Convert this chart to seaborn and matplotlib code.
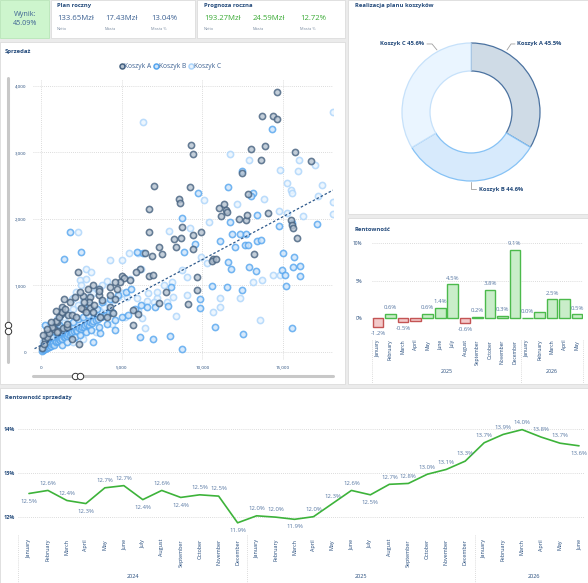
import numpy as np
import pandas as pd
import matplotlib
matplotlib.use("Agg")
import matplotlib.pyplot as plt
import matplotlib.transforms as mtrans
from matplotlib.patches import Rectangle
from matplotlib.lines import Line2D
import seaborn as sns

# ---------------- data ----------------
kpi_plan_values = ["133.65Mzł", "17.43Mzł", "13.04%"]
kpi_prog_values = ["193.27Mzł", "24.59Mzł", "12.72%"]
kpi_sub_labels = ["Netto", "Marża", "Marża %"]
wynik_text = "Wynik:\n45.09%"

donut_labels = ["Koszyk A", "Koszyk B", "Koszyk C"]
donut_values = [45.5, 44.6, 45.6]

bar_months = ["January", "February", "March", "April", "May", "June", "July",
              "August", "September", "October", "November", "December",
              "January", "February", "March", "April", "May"]
bar_values = [-1.2, 0.6, -0.5, -0.35, 0.6, 1.4, 4.5, -0.6, 0.2, 3.8, 0.3, 9.1,
              0.04, 0.75, 2.5, 2.5, 0.5]
bar_show_label = [1, 1, 1, 0, 1, 1, 1, 1, 1, 1, 1, 1, 1, 0, 1, 0, 1]
bar_years = ["2025", "2026"]

line_months = ["January", "February", "March", "April", "May", "June", "July",
               "August", "September", "October", "November", "December"] * 2 + \
              ["January", "February", "March", "April", "May", "June"]
line_values = [12.53, 12.60, 12.37, 12.30, 12.66, 12.71, 12.39, 12.60, 12.44, 12.50,
               12.47, 11.86, 12.02, 11.99, 11.94, 12.00, 12.30, 12.60, 12.50, 12.74,
               12.76, 12.97, 13.08, 13.27, 13.69, 13.88, 13.99, 13.82, 13.68, 13.62]
line_label_pos = ["b", "a", "a", "b", "a", "a", "b", "a", "b", "a", "a", "b",
                  "a", "a", "b", "a", "a", "a", "b", "a", "a", "a", "a", "a",
                  "a", "a", "a", "a", "a", "b"]
line_years = ["2024", "2025", "2026"]

A_x = [14655, 13680, 14405, 14655, 9322, 9446, 13000, 13910, 13640, 15770, 16720, 7030,
       9260, 8575, 8620, 6700, 12460, 12810, 11040, 11330, 11470, 11510, 11180, 12260,
       12700, 12750, 14060, 15500, 15570, 15650, 15860, 8720, 6700, 9940, 9446, 8250,
       8680, 7300, 8370, 9450, 10650, 10580, 10850, 13230, 6470, 6880, 7480, 6700, 6970,
       6160, 5910, 5520, 5020, 5120, 4900, 4280, 4690, 3580, 3580, 3580, 3040, 2625,
       2290, 4280, 4590, 5690, 9650, 9140, 9670, 7750, 7340, 5730, 5990, 2980, 3040,
       2625, 1695, 1280, 1220, 970, 800, 350, 230, 1920, 2360, 1920, 2480, 2690, 1075,
       1385, 1590, 3660, 4070, 4490, 3245,
       80, 200, 350, 500, 700, 900, 1100, 1300, 1500, 1800, 2100, 2400, 1000, 1600,
       2200, 2800, 3300, 3800, 4300, 600, 900, 1400, 2900, 3200, 4600, 150, 400]
A_y = [3905, 3550, 3540, 3505, 3115, 2980, 3055, 3100, 2890, 3005, 2865, 2495,
       2475, 2295, 2240, 2145, 2690, 2370, 2160, 2225, 2130, 2095, 2040, 1990,
       1980, 2050, 2090, 1975, 1905, 1855, 1715, 1880, 1800, 1800, 1760, 1700,
       1705, 1570, 1570, 1550, 1400, 1365, 1400, 1470, 1490, 1440, 1465, 1140, 1155,
       1240, 1200, 1080, 1145, 1110, 1050, 980, 940, 945, 850, 910, 830, 840,
       1195, 680, 795, 405, 1130, 715, 930, 905, 730, 630, 565, 745, 665,
       650, 550, 680, 565, 455, 340, 280, 180, 190, 120, 550, 660, 750, 315,
       355, 380, 530, 530, 580, 605,
       60, 120, 220, 280, 380, 460, 520, 600, 650, 750, 820, 900, 300, 420,
       520, 600, 700, 780, 850, 450, 620, 800, 950, 1000, 1050, 250, 350]

B_x = [14340, 12440, 11610, 13140, 13000, 9730, 8720, 11740, 13370, 14735, 15570, 17140,
       11850, 12350, 12710, 13370, 13660, 11100, 12650, 12860, 12030, 9550, 8890, 6345,
       5930, 11610, 11760, 12920, 13350, 15030, 14920, 15130, 15190, 15710, 15650, 16060,
       16060, 15540, 12520, 10790, 8760, 8020, 6945, 6160, 10580, 11510, 12440, 9880,
       9840, 8040, 7900, 7070, 6550, 4590, 3660, 3245, 1425, 1800,
       50, 120, 180, 250, 300, 380, 420, 500, 560, 620, 700, 760, 820, 900, 950, 1050,
       1100, 1180, 1250, 1320, 1400, 1480, 1550, 1620, 1700, 1780, 1850, 1950, 2050,
       2150, 2250, 2350, 2450, 2550, 2650, 2750, 2850, 2950, 3050, 3150, 3250, 3400,
       3550, 3700, 3850, 4000, 4200, 4400, 600, 800, 1000, 1200, 1500, 1700, 2000,
       2300, 2600, 2900, 3200, 3500, 400, 700, 1300, 1600, 2100, 2400, 2800, 3100,
       3600, 4100, 4600, 5000, 5400, 5800, 6200, 900, 1100, 300, 200, 100, 3000,
       3800, 4300, 4800, 5300, 5600, 250, 870, 1200, 2500]
B_y = [3345, 2720, 2475, 2380, 2335, 2385, 2005, 1945, 2055, 1890, 1935, 1915,
       1775, 1775, 1765, 1670, 1680, 1670, 1610, 1605, 1570, 1625, 1505, 1490,
       1495, 1355, 1240, 1275, 1210, 1480, 1230, 1155, 990, 1430, 1280, 1290,
       1140, 355, 265, 370, 45, 240, 195, 230, 995, 970, 925, 660,
       800, 975, 690, 680, 680, 330, 280, 155, 1395, 1800,
       20, 35, 50, 45, 70, 60, 90, 80, 110, 95, 120, 140, 110, 150, 170, 160,
       190, 175, 210, 200, 230, 220, 250, 240, 270, 260, 290, 300, 310,
       330, 320, 360, 350, 380, 370, 400, 420, 410, 450, 440, 470, 480,
       500, 520, 540, 560, 580, 600, 250, 300, 280, 350, 380, 420, 450,
       500, 520, 560, 600, 650, 200, 220, 110, 150, 220, 260, 300, 330,
       380, 420, 480, 520, 560, 640, 700, 350, 400, 150, 100, 60, 700,
       750, 800, 850, 900, 950, 405, 435, 560, 1500]

C_x = [18130, 6345, 11740, 12920, 16020, 16990, 15910, 14820, 15270, 17450, 15500, 15590,
       10130, 12170, 13850, 14780, 15230, 16270, 18130, 18130, 17160, 10440, 9220, 7940,
       5990, 5440, 4280, 5020, 2790, 2420, 1960, 970, 560, 9900, 10270, 8720, 9030, 8100,
       7610, 6610, 7170, 5930, 5310, 11080, 12340, 13170, 13700, 14390, 14820, 9030, 8210,
       7030, 7790, 8370, 6240, 6450, 10690, 11100, 13580, 2300,
       150, 350, 600, 900, 1200, 1500, 1800, 2100, 2400, 2700, 3000, 3300, 3600, 3900,
       4200, 4500, 4800, 5100, 500, 800, 1100, 1400, 1700, 2000, 2300, 2600, 2900, 3200,
       3500, 3800, 4100, 1300, 1900, 2200, 2500, 2800, 3100, 900, 700, 2000, 2600, 3400,
       4400, 5200, 6000, 6600, 7200, 300, 100, 5500, 6200]
C_y = [3610, 3450, 2980, 2880, 2880, 2810, 2720, 2740, 2540, 2510, 2430, 2380,
       2275, 2225, 2300, 2120, 2090, 2040, 2245, 2070, 2345, 1955, 1865, 1810,
       1490, 1490, 1380, 1375, 1250, 1080, 815, 500, 415, 1430, 1330, 1230, 1120, 1055,
       1005, 880, 810, 805, 830, 810, 805, 1055, 1080, 1150, 1155, 855, 830,
       755, 750, 540, 505, 355, 605, 680, 480, 1800,
       60, 100, 130, 180, 230, 280, 330, 380, 430, 480, 530, 580, 630, 680,
       730, 780, 830, 880, 300, 380, 450, 520, 580, 640, 700, 760, 820, 880,
       940, 1000, 1060, 650, 800, 900, 1000, 1100, 1200, 420, 300, 150, 200, 300,
       420, 520, 620, 760, 900, 250, 150, 1100, 1250]

trend_x = [-400, 18100]
trend_y = [50, 2430]

# ---------------- styling ----------------
sns.set_theme(style="white")
plt.rcParams["font.family"] = ["Open Sans", "DejaVu Sans"]

TITLE = "#22497a"
TXT = "#3d6293"
LBL = "#5878a3"
GREEN = "#3aaa35"
GRID = "#d0d0d0"

W, H = 588, 583
fig = plt.figure(figsize=(W / 100, H / 100), dpi=100, facecolor="#ebebeb")


def ax_px(x0, y0, w, h):
    return fig.add_axes([x0 / W, 1 - (y0 + h) / H, w / W, h / H])


def card(x0, y0, w, h, fc="white", ec="#dcdcdc"):
    r = Rectangle((x0 / W, 1 - (y0 + h) / H), w / W, h / H, transform=fig.transFigure,
                  facecolor=fc, edgecolor=ec, linewidth=0.6, zorder=-10)
    fig.add_artist(r)


def ftext(x, y, s, **kw):
    fig.text(x / W, 1 - y / H, s, **kw)


card(0, 0, 49, 38, fc="#cdf5cd", ec="#b8e6b8")
card(51, 0, 144, 38)
card(197, 0, 148, 38)
card(348, 0, 240, 214)
card(0, 42, 345, 342)
card(348, 218, 240, 166)
card(0, 388, 588, 195)

# ---------------- KPI header ----------------
ftext(25, 19, wynik_text, ha="center", va="center", fontsize=5.2, color=TXT,
      linespacing=1.5)
ftext(57, 6, "Plan roczny", ha="left", va="center", fontsize=4.2, color=TITLE,
      fontweight="bold")
ftext(204, 6, "Prognoza roczna", ha="left", va="center", fontsize=4.2, color=TITLE,
      fontweight="bold")
for xs, vals, col in [([57, 105, 151], kpi_plan_values, TXT),
                      ([204, 253, 300], kpi_prog_values, GREEN)]:
    for x, v, s in zip(xs, vals, kpi_sub_labels):
        ftext(x, 19, v, ha="left", va="center", fontsize=5.6, color=col)
        ftext(x, 28.5, s, ha="left", va="center", fontsize=2.8, color="#7d8ea3")

# ---------------- donut ----------------
ftext(355, 6, "Realizacja planu koszyków", ha="left", va="center", fontsize=4.2,
      color=TITLE, fontweight="bold")
axd = ax_px(402, 43, 138, 138)
face_cols = ["#cfdbe6", "#d7eafc", "#eaf5ff"]
edge_cols = ["#4b72a0", "#86c2f5", "#c6e1fa"]
wedges, _ = axd.pie(donut_values, colors=face_cols, startangle=90, counterclock=False,
                    radius=1.0, wedgeprops=dict(width=0.406, linewidth=0.9))
for w_, ec in zip(wedges, edge_cols):
    w_.set_edgecolor(ec)
axd.set_xlim(-1, 1)
axd.set_ylim(-1, 1)
axd.set_aspect("equal")
axd.axis("off")
lead = "#a0a0a0"
axd.plot([0.522, 0.58, 0.638], [0.899, 0.986, 0.986], color=lead, lw=0.6, clip_on=False)
axd.plot([-0.493, -0.565, -0.638], [0.899, 0.986, 0.986], color=lead, lw=0.6, clip_on=False)
axd.plot([0, 0, 0.072], [-1.014, -1.116, -1.116], color=lead, lw=0.6, clip_on=False)
axd.text(0.667, 0.986, f"{donut_labels[0]} {donut_values[0]}%", ha="left", va="center",
         fontsize=4.2, color=TITLE, fontweight="bold")
axd.text(-0.681, 0.986, f"{donut_labels[2]} {donut_values[2]}%", ha="right", va="center",
         fontsize=4.2, color=TITLE, fontweight="bold")
axd.text(0.116, -1.116, f"{donut_labels[1]} {donut_values[1]}%", ha="left", va="center",
         fontsize=4.2, color=TITLE, fontweight="bold")

# ---------------- scatter ----------------
ftext(5, 51, "Sprzedaż", ha="left", va="center", fontsize=4.2, color=TITLE,
      fontweight="bold")
axs = ax_px(33, 79, 300, 281)
axs.set_facecolor("none")
styles = {"Koszyk A": ("#b5c2d0", "#45617f"),
          "Koszyk B": ("#cde4fa", "#55a5ef"),
          "Koszyk C": ("#e9f4fe", "#add5fb")}
df_s = pd.DataFrame({
    "x": C_x + B_x + A_x,
    "y": C_y + B_y + A_y,
    "k": ["Koszyk C"] * len(C_x) + ["Koszyk B"] * len(B_x) + ["Koszyk A"] * len(A_x),
})
for k in ["Koszyk C", "Koszyk B", "Koszyk A"]:
    sub = df_s[df_s["k"] == k]
    fc, ec = styles[k]
    sns.scatterplot(data=sub, x="x", y="y", color=fc, edgecolor=ec, s=20,
                    linewidth=1.15, alpha=0.8, ax=axs, legend=False, zorder=3)
axs.plot(trend_x, trend_y, linestyle=(0, (2, 1.6)), color="#2f5a8c", lw=0.9, zorder=4)
axs.set_xlim(-496, 18103)
axs.set_ylim(-120, 4099)
axs.set_xticks([0, 5000, 10000, 15000])
axs.set_xticklabels(["0", "5,000", "10,000", "15,000"])
axs.set_yticks([0, 1000, 2000, 3000, 4000])
axs.set_yticklabels(["0", "1,000", "2,000", "3,000", "4,000"])
axs.tick_params(axis="both", length=0, labelsize=3.2, labelcolor=TITLE)
axs.tick_params(axis="x", pad=4)
axs.tick_params(axis="y", pad=5)
axs.set_xlabel("")
axs.set_ylabel("")
axs.grid(True, linestyle=(0, (1, 1.5)), color=GRID, lw=0.6)
axs.set_axisbelow(True)
for sp in axs.spines.values():
    sp.set_visible(False)
handles = [Line2D([], [], marker="o", linestyle="", markersize=3.6,
                  markerfacecolor=styles[k][0], markeredgecolor=styles[k][1],
                  markeredgewidth=1.1) for k in ["Koszyk A", "Koszyk B", "Koszyk C"]]
axs.legend(handles, ["Koszyk A", "Koszyk B", "Koszyk C"], ncol=3, loc="center",
           bbox_to_anchor=(0.457, 1 + 12 / 281), frameon=False, fontsize=4.8,
           handletextpad=0.05, columnspacing=0.35, handlelength=0.7, labelcolor=TXT,
           borderaxespad=0)

# slider decorations
fig.add_artist(Line2D([7.5 / W, 7.5 / W], [1 - 78 / H, 1 - 362 / H], color="#c8c8c8",
                      lw=2.2, transform=fig.transFigure))
fig.add_artist(Line2D([33 / W, 333 / W], [1 - 376 / H, 1 - 376 / H], color="#c8c8c8",
                      lw=2.2, transform=fig.transFigure))
for (cx, cy) in [(7.5, 325), (7.5, 331), (75, 376), (80, 376)]:
    fig.add_artist(Line2D([cx / W], [1 - cy / H], marker="o", markersize=4.6,
                          markerfacecolor="white", markeredgecolor="#333333",
                          markeredgewidth=0.7, transform=fig.transFigure))

# ---------------- bar chart ----------------
ftext(355, 229, "Rentowność", ha="left", va="center", fontsize=4.2, color=TITLE,
      fontweight="bold")
axb = ax_px(371.8, 240, 211.5, 97)
axb.set_facecolor("none")
df_b = pd.DataFrame({"i": list(range(len(bar_values))), "v": bar_values})
sns.barplot(data=df_b, x="i", y="v", ax=axb, width=0.85, color="#c8ecc8",
            linewidth=1.0, zorder=3)
for p, v in zip(axb.patches, bar_values):
    if v < 0:
        p.set_facecolor("#f3caca")
        p.set_edgecolor("#c45454")
    else:
        p.set_facecolor("#c9edc9")
        p.set_edgecolor("#4cba4c")
for i, (v, show) in enumerate(zip(bar_values, bar_show_label)):
    if not show:
        continue
    if v >= 0:
        axb.annotate(f"{v:.1f}%", (i, v), xytext=(0, 4.5), textcoords="offset points",
                     ha="center", va="center", fontsize=4.3, color=LBL)
    else:
        axb.annotate(f"{v:.1f}%", (i, v), xytext=(0, -5), textcoords="offset points",
                     ha="center", va="center", fontsize=4.3, color=LBL)
axb.set_xlim(-0.5, 16.5)
axb.set_ylim(-2.53, 10.4)
axb.set_yticks([0, 5, 10])
axb.set_yticklabels(["0%", "5%", "10%"])
axb.set_xticks(range(len(bar_months)))
axb.set_xticklabels(bar_months, rotation=90, va="top", ha="center")
axb.tick_params(axis="x", length=0, pad=2, labelsize=3.6, labelcolor=TITLE)
axb.tick_params(axis="y", length=0, pad=7, labelsize=3.4, labelcolor=TITLE)
axb.set_xlabel("")
axb.set_ylabel("")
axb.grid(True, axis="y", linestyle=(0, (1, 1.5)), color=GRID, lw=0.6)
axb.set_axisbelow(True)
for sp in axb.spines.values():
    sp.set_visible(False)
tb = mtrans.blended_transform_factory(axb.transData, axb.transAxes)
for xs in [-0.5, 11.5, 16.5]:
    axb.add_line(Line2D([xs, xs], [-0.03, -0.47], transform=tb, clip_on=False,
                        linestyle=(0, (1, 1.5)), color=GRID, lw=0.6))
axb.text(5.5, -0.36, bar_years[0], transform=tb, ha="center", va="center",
         fontsize=3.8, color=TITLE)
axb.text(14.0, -0.36, bar_years[1], transform=tb, ha="center", va="center",
         fontsize=3.8, color=TITLE)

# ---------------- line chart ----------------
ftext(5, 397, "Rentowność sprzedaży", ha="left", va="center", fontsize=4.2, color=TITLE,
      fontweight="bold")
axl = ax_px(17.6, 420, 567.1, 112)
axl.set_facecolor("none")
df_l = pd.DataFrame({"i": list(range(len(line_values))), "v": line_values})
sns.lineplot(data=df_l, x="i", y="v", ax=axl, color="#3db33a", lw=1.2, zorder=3)
for i, (v, pos) in enumerate(zip(line_values, line_label_pos)):
    dy = 5.2 if pos == "a" else -5.5
    axl.annotate(f"{v:.1f}%", (i, v), xytext=(0, dy), textcoords="offset points",
                 ha="center", va="center", fontsize=4.3, color=LBL)
axl.set_xlim(-0.6, 29.3)
axl.set_ylim(11.65, 14.21)
axl.set_yticks([12, 13, 14])
axl.set_yticklabels(["12%", "13%", "14%"])
axl.set_xticks(range(len(line_months)))
axl.set_xticklabels(line_months, rotation=90, va="top", ha="center")
axl.tick_params(axis="x", length=0, pad=5, labelsize=3.9, labelcolor=TITLE)
axl.tick_params(axis="y", length=0, pad=2, labelsize=4.0, labelcolor=TITLE)
for t in axl.get_yticklabels():
    t.set_fontweight("bold")
axl.set_xlabel("")
axl.set_ylabel("")
axl.grid(True, axis="y", linestyle=(0, (1, 1.5)), color=GRID, lw=0.6)
axl.set_axisbelow(True)
for sp in axl.spines.values():
    sp.set_visible(False)
tl = mtrans.blended_transform_factory(axl.transData, axl.transAxes)
for xs in [-0.6, 11.5, 23.5]:
    axl.add_line(Line2D([xs, xs], [-0.03, -0.46], transform=tl, clip_on=False,
                        linestyle=(0, (1, 1.5)), color=GRID, lw=0.6))
for xc, yr in zip([5.5, 17.5, 26.6], line_years):
    axl.text(xc, -0.40, yr, transform=tl, ha="center", va="center", fontsize=4.0,
             color=TITLE)

fig.savefig("out.png", dpi=100, facecolor=fig.get_facecolor())
